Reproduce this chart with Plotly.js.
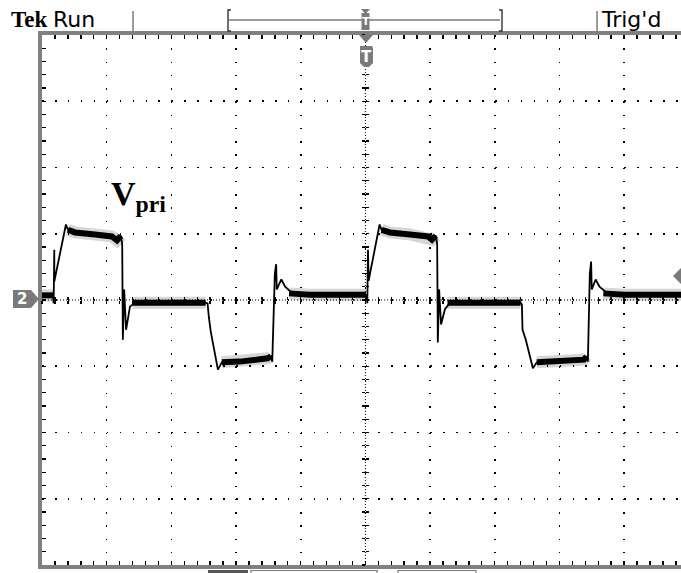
<!DOCTYPE html>
<html>
<head>
<meta charset="utf-8">
<script src="https://cdn.plot.ly/plotly-3.0.1.min.js"></script>
<style>
  html, body { margin: 0; padding: 0; background: #fff; overflow: hidden; }
  #chart { width: 681px; height: 573px; }
</style>
</head>
<body>
<div id="chart"></div>
<script>
// ---- Data: V_pri waveform, time and voltage in screen divisions ----
const tDiv = [0.00, 0.17, 0.18, 0.19, 0.19, 0.37, 0.40, 0.51, 0.82, 1.08, 1.16, 1.22, 1.24, 1.25, 1.27, 1.30, 1.36, 1.44,
  2.53, 2.56, 2.58, 2.61, 2.72, 2.78, 3.06, 3.49, 3.54, 3.56, 3.60, 3.62, 3.63, 3.70, 3.76, 3.86, 4.14, 5.01,
  5.02, 5.03, 5.04, 5.05, 5.22, 5.25, 5.38, 5.69, 5.97, 6.03, 6.09, 6.11, 6.12, 6.14, 6.17, 6.23, 6.31,
  7.40, 7.42, 7.43, 7.48, 7.59, 7.65, 8.01, 8.38, 8.42, 8.44, 8.47, 8.49, 8.50, 8.56, 8.62, 8.73, 9.01, 9.88];
const vDiv = [0.07, 0.07, -0.05, 0.76, 0.28, 1.14, 1.06, 1.02, 0.99, 0.96, 0.90, 0.97, 0.84, -0.60, 0.16, -0.45, -0.10, -0.04,
  -0.04, -0.05, -0.26, -0.48, -1.05, -0.94, -0.93, -0.88, -0.85, -0.93, 0.39, 0.54, 0.16, 0.31, 0.20, 0.11, 0.08, 0.08,
  0.07, -0.05, 0.76, 0.29, 1.14, 1.06, 1.02, 0.99, 0.96, 0.91, 0.97, 0.84, -0.64, 0.16, -0.37, -0.14, -0.04,
  -0.04, -0.07, -0.45, -0.60, -1.03, -0.94, -0.93, -0.90, -0.85, -0.93, 0.39, 0.58, 0.16, 0.31, 0.20, 0.11, 0.08, 0.08];
// settled (flat) portions of the same trace, drawn thicker as on the scope's persistence display
const plateauT = [0.00, 0.17, null, 0.40, 0.51, 0.82, 1.08, 1.16, 1.22, null, 1.40, 2.53, null, 2.78, 3.06, 3.49, 3.54, null,
  3.82, 4.14, 5.01, null, 5.25, 5.38, 5.69, 5.97, 6.03, 6.09, null, 6.27, 7.40, null, 7.65, 8.01, 8.38, 8.42, null, 8.68, 9.01, 9.88];
const plateauV = [0.07, 0.07, null, 1.06, 1.02, 0.99, 0.96, 0.90, 0.97, null, -0.04, -0.04, null, -0.94, -0.93, -0.88, -0.85, null,
  0.10, 0.08, 0.08, null, 1.06, 1.02, 0.99, 0.96, 0.91, 0.97, null, -0.04, -0.04, null, -0.94, -0.93, -0.90, -0.85, null, 0.10, 0.08, 0.08];

const xRange = [0, 9.88];   // 10 divisions, right edge cropped
const yRange = [-4, 4];     // 8 divisions
const traceLabel = 'V<sub>pri</sub>';
const headerLeft = 'Run';
const headerRight = "Trig'd";
const brand = 'Tek';
const channel = '2';

// ---- Layout helpers (pixel -> paper) ----
const L = 42, R = 681, T = 35, B = 565;
const PX = x => (x - L) / (R - L);
const PY = y => (B - y) / (B - T);
function path(pts) {
  return 'M' + pts.map(p => PX(p[0]).toFixed(5) + ',' + PY(p[1]).toFixed(5)).join('L') + 'Z';
}
const grey = '#7a7a7a';

const traces = [
  {x: plateauT, y: plateauV, mode: 'lines', line: {color: 'rgba(0,0,0,0.16)', width: 12}, hoverinfo: 'skip', connectgaps: false},
  {x: plateauT, y: plateauV, mode: 'lines', line: {color: '#000', width: 6}, hoverinfo: 'skip', connectgaps: false},
  {x: tDiv, y: vDiv, mode: 'lines', line: {color: '#000', width: 1.8}, hoverinfo: 'skip'},
  {x: [null], y: [null], xaxis: 'x2', yaxis: 'y2', mode: 'lines', hoverinfo: 'skip'},
  {x: [null], y: [null], xaxis: 'x3', yaxis: 'y3', mode: 'lines', hoverinfo: 'skip'}
];

const centerTick = {tick0: 0, dtick: 0.2, ticklen: 3, tickwidth: 1.4, tickcolor: '#000',
  showticklabels: false, showgrid: false, zeroline: false, showline: false, anchor: 'free'};

const layout = {
  width: 681, height: 573,
  margin: {l: L, r: 0, t: T, b: 573 - B, pad: 0},
  paper_bgcolor: '#fff', plot_bgcolor: '#fff',
  showlegend: false,
  xaxis: {range: xRange, tick0: 0, dtick: 1, showticklabels: false, zeroline: false,
    showgrid: true, gridcolor: '#000', gridwidth: 1.6, griddash: '1.6px,11.65px',
    ticks: 'inside', ticklen: 4, tickwidth: 1.4, tickcolor: '#000',
    minor: {tick0: 0, dtick: 0.2, ticks: 'inside', ticklen: 4, tickwidth: 1.4, tickcolor: '#000', showgrid: false},
    showline: true, linecolor: '#808080', linewidth: 4, mirror: 'allticks', fixedrange: true},
  yaxis: {range: yRange, tick0: 0, dtick: 1, showticklabels: false, zeroline: false,
    showgrid: true, gridcolor: '#000', gridwidth: 1.6, griddash: '1.6px,11.34px',
    ticks: 'inside', ticklen: 4, tickwidth: 1.4, tickcolor: '#000',
    minor: {tick0: 0, dtick: 0.2, ticks: 'inside', ticklen: 4, tickwidth: 1.4, tickcolor: '#000', showgrid: false},
    showline: true, linecolor: '#808080', linewidth: 4, mirror: true, fixedrange: true},
  xaxis2: Object.assign({}, centerTick, {overlaying: 'x', range: xRange, position: 0.5, ticks: 'outside'}),
  xaxis3: Object.assign({}, centerTick, {overlaying: 'x', range: xRange, position: 0.5, ticks: 'inside'}),
  yaxis2: Object.assign({}, centerTick, {overlaying: 'y', range: yRange, position: 5 / xRange[1], ticks: 'outside'}),
  yaxis3: Object.assign({}, centerTick, {overlaying: 'y', range: yRange, position: 5 / xRange[1], ticks: 'inside'}),
  shapes: [
    // center cross (dense dotted)
    {type: 'line', xref: 'paper', yref: 'y', x0: 0, x1: 1, y0: 0, y1: 0, layer: 'below', line: {color: '#000', width: 1, dash: '1px,2px'}},
    {type: 'line', xref: 'x', yref: 'paper', x0: 5, x1: 5, y0: 0, y1: 1, layer: 'below', line: {color: '#000', width: 1, dash: '1px,2px'}},
    // header separators
    {type: 'line', xref: 'paper', yref: 'paper', x0: PX(133), x1: PX(133), y0: PY(11), y1: PY(33), line: {color: grey, width: 1.5}},
    {type: 'line', xref: 'paper', yref: 'paper', x0: PX(597), x1: PX(597), y0: PY(11), y1: PY(33), line: {color: grey, width: 1.5}},
    // record-view bracket
    {type: 'line', xref: 'paper', yref: 'paper', x0: PX(229), x1: PX(500), y0: PY(20), y1: PY(20), line: {color: grey, width: 1.5}},
    {type: 'path', xref: 'paper', yref: 'paper', path: 'M' + PX(231) + ',' + PY(10) + 'L' + PX(228) + ',' + PY(10) + 'L' + PX(228) + ',' + PY(31) + 'L' + PX(231) + ',' + PY(31), line: {color: '#333', width: 1.4}},
    {type: 'path', xref: 'paper', yref: 'paper', path: 'M' + PX(499) + ',' + PY(10) + 'L' + PX(502) + ',' + PY(10) + 'L' + PX(502) + ',' + PY(31) + 'L' + PX(499) + ',' + PY(31), line: {color: '#333', width: 1.4}},
    // header trigger marker
    {type: 'path', xref: 'paper', yref: 'paper', path: path([[361, 9], [370, 9], [365.5, 14]]), fillcolor: grey, line: {width: 0}},
    {type: 'rect', xref: 'paper', yref: 'paper', x0: PX(361.5), x1: PX(369.5), y0: PY(13), y1: PY(30), fillcolor: grey, line: {width: 0}},
    // top-edge trigger position marker
    {type: 'path', xref: 'paper', yref: 'paper', path: path([[359, 35], [373, 35], [366, 43]]), fillcolor: grey, line: {width: 0}},
    {type: 'path', xref: 'paper', yref: 'paper', path: path([[360, 46], [372, 46], [373, 48], [373, 63], [369, 67], [364, 67], [360, 63]]), fillcolor: grey, line: {width: 0}},
    // channel 2 ground marker
    {type: 'path', xref: 'paper', yref: 'paper', path: path([[13, 290], [31, 290], [39, 299], [31, 308], [13, 308]]), fillcolor: grey, line: {width: 0}},
    // trigger level marker (right)
    {type: 'path', xref: 'paper', yref: 'paper', path: path([[673, 276], [681, 268], [681, 284]]), fillcolor: grey, line: {width: 0}},
    // bottom menu boxes (cropped)
    {type: 'rect', xref: 'paper', yref: 'paper', x0: PX(208), x1: PX(248), y0: PY(570), y1: PY(574), fillcolor: '#555', line: {width: 0}},
    {type: 'rect', xref: 'paper', yref: 'paper', x0: PX(251), x1: PX(377), y0: PY(570.5), y1: PY(575), fillcolor: 'rgba(0,0,0,0)', line: {color: grey, width: 1.2}},
    {type: 'rect', xref: 'paper', yref: 'paper', x0: PX(398), x1: PX(476), y0: PY(570.5), y1: PY(575), fillcolor: 'rgba(0,0,0,0)', line: {color: grey, width: 1.2}}
  ],
  annotations: [
    {xref: 'paper', yref: 'paper', x: PX(9), y: PY(20), xanchor: 'left', yanchor: 'middle', showarrow: false,
      text: '<b>' + brand + '</b>', font: {family: 'Liberation Serif', size: 23, color: '#000'}},
    {xref: 'paper', yref: 'paper', x: PX(51), y: PY(20), xanchor: 'left', yanchor: 'middle', showarrow: false,
      text: headerLeft, font: {family: 'DejaVu Sans', size: 22, color: '#000'}},
    {xref: 'paper', yref: 'paper', x: PX(599), y: PY(20), xanchor: 'left', yanchor: 'middle', showarrow: false,
      text: headerRight, font: {family: 'DejaVu Sans', size: 22, color: '#000'}},
    {xref: 'paper', yref: 'paper', x: PX(365.5), y: PY(21.5), xanchor: 'center', yanchor: 'middle', showarrow: false,
      text: '<b>T</b>', font: {family: 'DejaVu Sans', size: 11, color: '#fff'}},
    {xref: 'paper', yref: 'paper', x: PX(366.5), y: PY(56.5), xanchor: 'center', yanchor: 'middle', showarrow: false,
      text: '<b>T</b>', font: {family: 'DejaVu Sans', size: 15, color: '#fff'}},
    {xref: 'paper', yref: 'paper', x: PX(22), y: PY(299), xanchor: 'center', yanchor: 'middle', showarrow: false,
      text: '<b>' + channel + '</b>', font: {family: 'DejaVu Sans', size: 15, color: '#fff'}},
    {xref: 'paper', yref: 'paper', x: PX(109), y: PY(196), xanchor: 'left', yanchor: 'middle', showarrow: false,
      text: '<b>' + traceLabel + '</b>', font: {family: 'Liberation Serif', size: 34, color: '#000'}}
  ]
};

Plotly.newPlot('chart', traces, layout, {staticPlot: true, displayModeBar: false});
</script>
</body>
</html>
